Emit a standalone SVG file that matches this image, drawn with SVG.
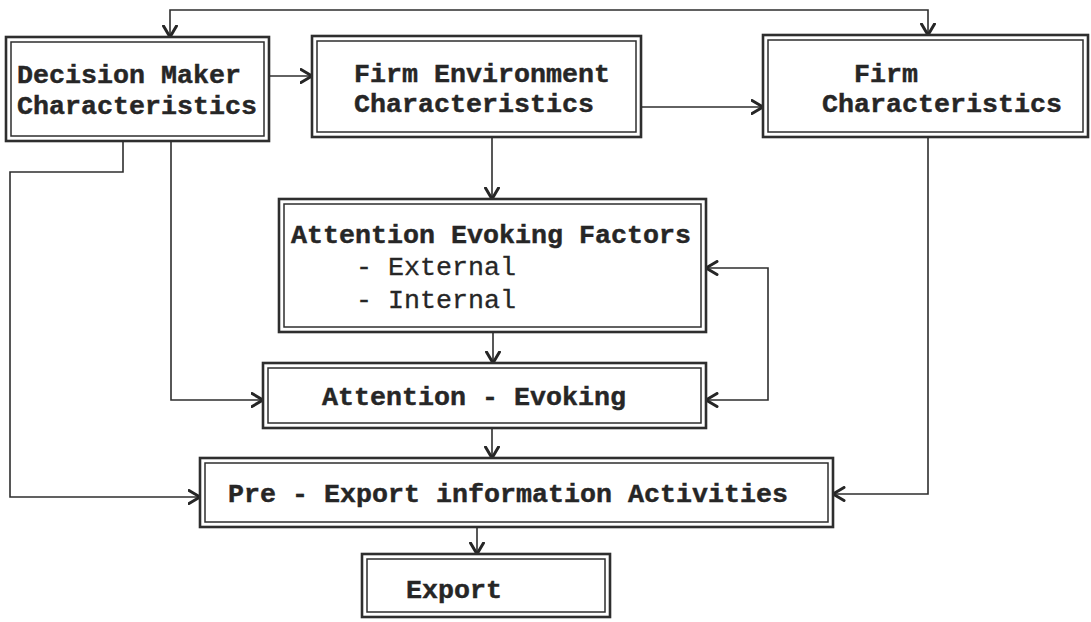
<svg xmlns="http://www.w3.org/2000/svg" width="1091" height="622" viewBox="0 0 1091 622">
  <style>
    .outer { fill: #ffffff; stroke: #2e2e2e; stroke-width: 2.6; }
    .inner { fill: none; stroke: #2e2e2e; stroke-width: 1.5; }
    .lbl { font-family: "Liberation Mono", "DejaVu Sans Mono", monospace; font-size: 26.67px; font-weight: bold; fill: #262626; stroke: #262626; stroke-width: 0.45; }
    .sub { font-family: "Liberation Mono", "DejaVu Sans Mono", monospace; font-size: 26.67px; font-weight: normal; fill: #262626; stroke: #262626; stroke-width: 0.3; }
    .link { fill: none; stroke: #2e2e2e; stroke-width: 1.6; }
  </style>
  <defs>
    <marker id="head" markerUnits="userSpaceOnUse" viewBox="0 0 14 16" markerWidth="14" markerHeight="16" refX="12.5" refY="8" orient="auto-start-reverse">
      <path d="M1.5,1.5 L12.5,8 L1.5,14.5" fill="none" stroke="#262626" stroke-width="3" stroke-linecap="round" stroke-linejoin="round"/>
    </marker>
  </defs>
  <rect width="1091" height="622" fill="#ffffff"/>

  <!-- connectors -->
  <g id="connectors">
    <!-- top link between decision maker and firm characteristics -->
    <path class="link" d="M170,37 V10 H928 V35" marker-start="url(#head)" marker-end="url(#head)"/>
    <path class="link" d="M269,76 H312" marker-end="url(#head)"/>
    <path class="link" d="M641,107 H763" marker-end="url(#head)"/>
    <!-- decision maker down to pre-export and attention-evoking -->
    <path class="link" d="M123,141 V172 H10 V497 H200" marker-end="url(#head)"/>
    <path class="link" d="M171,141 V400 H263" marker-end="url(#head)"/>
    <!-- firm characteristics down to pre-export -->
    <path class="link" d="M928,137 V494 H833" marker-end="url(#head)"/>
    <!-- vertical chain -->
    <path class="link" d="M492,137 V199" marker-end="url(#head)"/>
    <path class="link" d="M493,332 V363" marker-end="url(#head)"/>
    <path class="link" d="M492,428 V458" marker-end="url(#head)"/>
    <path class="link" d="M477,527 V554" marker-end="url(#head)"/>
    <!-- feedback loop between attention evoking and its factors -->
    <path class="link" d="M706,400 H768 V268 H706" marker-start="url(#head)" marker-end="url(#head)"/>
  </g>

  <g id="decision-maker">
    <rect class="outer" x="6" y="37" width="263" height="104"/>
    <rect class="inner" x="11" y="42" width="253" height="94"/>
    <text class="lbl" x="17" y="83">Decision Maker</text>
    <text class="lbl" x="17" y="114">Characteristics</text>
  </g>

  <g id="firm-environment">
    <rect class="outer" x="312" y="36" width="329" height="101"/>
    <rect class="inner" x="317" y="41" width="319" height="91"/>
    <text class="lbl" x="354" y="82">Firm Environment</text>
    <text class="lbl" x="354" y="112">Characteristics</text>
  </g>

  <g id="firm">
    <rect class="outer" x="763" y="35" width="325" height="102"/>
    <rect class="inner" x="768" y="40" width="315" height="92"/>
    <text class="lbl" x="854" y="82">Firm</text>
    <text class="lbl" x="822" y="112">Characteristics</text>
  </g>

  <g id="evoking-factors">
    <rect class="outer" x="279" y="199" width="427" height="133"/>
    <rect class="inner" x="284" y="204" width="417" height="123"/>
    <text class="lbl" x="291" y="243">Attention Evoking Factors</text>
    <text class="sub" x="356" y="275">- External</text>
    <text class="sub" x="356" y="308">- Internal</text>
  </g>

  <g id="attention-evoking">
    <rect class="outer" x="263" y="363" width="443" height="65"/>
    <rect class="inner" x="268" y="368" width="433" height="55"/>
    <text class="lbl" x="322" y="405">Attention - Evoking</text>
  </g>

  <g id="pre-export">
    <rect class="outer" x="200" y="458" width="633" height="69"/>
    <rect class="inner" x="205" y="463" width="623" height="59"/>
    <text class="lbl" x="228" y="502">Pre - Export information Activities</text>
  </g>

  <g id="export">
    <rect class="outer" x="362" y="554" width="248" height="63"/>
    <rect class="inner" x="367" y="559" width="238" height="53"/>
    <text class="lbl" x="406" y="598">Export</text>
  </g>
</svg>
